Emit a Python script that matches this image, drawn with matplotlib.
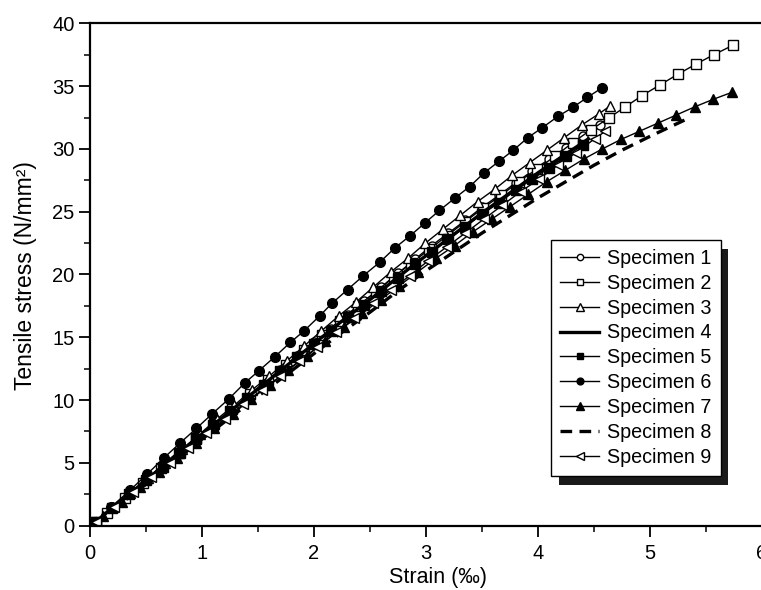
import matplotlib
matplotlib.use("Agg")
import matplotlib.pyplot as plt
from matplotlib.patches import Rectangle
from matplotlib.ticker import MultipleLocator

plt.rcParams['font.family'] = ['Liberation Sans', 'DejaVu Sans']

# Stress-strain readings for each specimen (strain in per mille, stress in N/mm^2)
s1_strain = [0.05, 0.20, 0.35, 0.50, 0.65, 0.80, 0.95, 1.10, 1.25, 1.40, 1.55, 1.70, 1.85, 2.00,
             2.15, 2.30, 2.45, 2.60, 2.75, 2.90, 3.05, 3.20, 3.35, 3.50, 3.65, 3.80, 3.95, 4.10,
             4.25, 4.40, 4.55]
s1_stress = [0.3, 1.4, 2.5, 3.6, 4.7, 5.8, 6.9, 8.0, 9.1, 10.2, 11.3, 12.4, 13.5, 14.6,
             15.7, 16.8, 17.9, 19.0, 20.1, 21.2, 22.3, 23.3, 24.3, 25.35, 26.3, 27.3, 28.25, 29.2,
             30.1, 31.0, 31.9]

s2_strain = [0.05, 0.15, 0.31, 0.47, 0.63, 0.79, 0.95, 1.11, 1.27, 1.43, 1.59, 1.75, 1.91, 2.07,
             2.23, 2.39, 2.55, 2.71, 2.87, 3.03, 3.19, 3.35, 3.51, 3.67, 3.83, 3.99, 4.15, 4.31,
             4.47, 4.63, 4.78, 4.93, 5.09, 5.25, 5.41, 5.57, 5.74]
s2_stress = [0.3, 1.0, 2.2, 3.4, 4.6, 5.8, 6.95, 8.1, 9.3, 10.5, 11.6, 12.8, 14.0, 15.2,
             16.3, 17.5, 18.6, 19.8, 20.9, 22.0, 23.1, 24.2, 25.3, 26.3, 27.4, 28.4, 29.4, 30.5,
             31.5, 32.45, 33.35, 34.25, 35.1, 35.95, 36.75, 37.5, 38.25]

s3_strain = [0.05, 0.205, 0.36, 0.515, 0.67, 0.825, 0.98, 1.135, 1.29, 1.445, 1.60, 1.755, 1.91,
             2.065, 2.22, 2.375, 2.53, 2.685, 2.84, 2.995, 3.15, 3.305, 3.46, 3.615, 3.77, 3.925,
             4.08, 4.235, 4.39, 4.545, 4.64]
s3_stress = [0.3, 1.5, 2.6, 3.8, 5.0, 6.1, 7.3, 8.5, 9.6, 10.8, 11.9, 13.1, 14.3,
             15.5, 16.7, 17.8, 19.0, 20.2, 21.3, 22.5, 23.6, 24.7, 25.8, 26.8, 27.9, 28.9,
             29.9, 30.9, 31.9, 32.8, 33.4]

s4_strain = [0.05, 0.25, 0.50, 0.75, 1.00, 1.25, 1.50, 1.75, 2.00, 2.25, 2.50, 2.75, 3.00, 3.25,
             3.50, 3.75, 4.00, 4.25, 4.45]
s4_stress = [0.3, 1.8, 3.6, 5.5, 7.3, 9.1, 10.9, 12.7, 14.5, 16.3, 18.0, 19.8, 21.5, 23.2,
             24.9, 26.5, 28.1, 29.6, 30.8]

s5_strain = [0.05, 0.20, 0.35, 0.50, 0.65, 0.80, 0.95, 1.10, 1.25, 1.40, 1.55, 1.70, 1.85, 2.00,
             2.15, 2.30, 2.45, 2.60, 2.75, 2.90, 3.05, 3.20, 3.35, 3.50, 3.65, 3.80, 3.95, 4.10,
             4.25, 4.40]
s5_stress = [0.3, 1.4, 2.5, 3.6, 4.7, 5.8, 6.9, 8.0, 9.1, 10.2, 11.2, 12.3, 13.4, 14.5,
             15.5, 16.6, 17.6, 18.7, 19.7, 20.8, 21.8, 22.8, 23.8, 24.8, 25.7, 26.7, 27.6, 28.5,
             29.4, 30.3]

s6_strain = [0.05, 0.19, 0.36, 0.51, 0.66, 0.80, 0.95, 1.09, 1.24, 1.38, 1.51, 1.65, 1.79, 1.91,
             2.05, 2.16, 2.30, 2.44, 2.59, 2.72, 2.86, 2.99, 3.12, 3.26, 3.39, 3.52, 3.65, 3.78,
             3.91, 4.04, 4.18, 4.31, 4.44, 4.57]
s6_stress = [0.3, 1.5, 2.85, 4.1, 5.4, 6.55, 7.75, 8.9, 10.1, 11.35, 12.35, 13.45, 14.6, 15.5,
             16.7, 17.7, 18.8, 19.9, 21.0, 22.1, 23.1, 24.1, 25.1, 26.1, 27.0, 28.1, 29.0, 29.9,
             30.9, 31.7, 32.6, 33.3, 34.1, 34.85]

s7_strain = [0.12, 0.285, 0.45, 0.615, 0.78, 0.945, 1.11, 1.275, 1.44, 1.605, 1.77, 1.935, 2.10,
             2.265, 2.43, 2.595, 2.76, 2.925, 3.09, 3.255, 3.42, 3.585, 3.75, 3.915, 4.08, 4.245,
             4.41, 4.575, 4.74, 4.905, 5.07, 5.235, 5.40, 5.565, 5.73]
s7_stress = [0.8, 1.9, 3.1, 4.3, 5.4, 6.6, 7.8, 8.9, 10.1, 11.2, 12.4, 13.5, 14.7,
             15.8, 16.9, 18.0, 19.1, 20.2, 21.3, 22.3, 23.4, 24.4, 25.4, 26.4, 27.4, 28.3,
             29.2, 30.0, 30.75, 31.4, 32.05, 32.7, 33.35, 33.95, 34.5]

s8_strain = [0.05, 0.25, 0.50, 0.75, 1.00, 1.25, 1.50, 1.75, 2.00, 2.25, 2.50, 2.75, 3.00, 3.25,
             3.50, 3.75, 4.00, 4.25, 4.50, 4.75, 5.00, 5.31]
s8_stress = [0.3, 1.6, 3.3, 5.1, 6.9, 8.6, 10.3, 12.0, 13.7, 15.4, 17.0, 18.7, 20.3, 21.8,
             23.3, 24.7, 26.1, 27.4, 28.7, 29.9, 31.0, 32.3]

s9_strain = [0.05, 0.215, 0.38, 0.545, 0.71, 0.875, 1.04, 1.205, 1.37, 1.535, 1.70, 1.865, 2.03,
             2.195, 2.36, 2.525, 2.69, 2.855, 3.02, 3.185, 3.35, 3.515, 3.68, 3.845, 4.01, 4.175,
             4.34, 4.505, 4.60]
s9_stress = [0.3, 1.5, 2.7, 3.9, 5.0, 6.2, 7.4, 8.5, 9.7, 10.8, 11.9, 13.1, 14.2,
             15.4, 16.5, 17.7, 18.8, 19.9, 21.1, 22.2, 23.3, 24.4, 25.5, 26.6, 27.6, 28.7,
             29.7, 30.8, 31.4]

labels = ["Specimen 1", "Specimen 2", "Specimen 3", "Specimen 4", "Specimen 5",
          "Specimen 6", "Specimen 7", "Specimen 8", "Specimen 9"]

x_ticks = [0, 1, 2, 3, 4, 5, 6]
y_ticks = [0, 5, 10, 15, 20, 25, 30, 35, 40]

fig = plt.figure(figsize=(7.61, 5.90), dpi=100)
ax = fig.add_axes([0.1183, 0.109, 0.883, 0.8515])

thin = dict(color="black", lw=1.0, mew=1.0, ms=6.5)
tri = {**thin, "ms": 7.5}
ax.plot(s1_strain, s1_stress, marker="o", mfc="white", mec="black", label=labels[0], **thin)
ax.plot(s2_strain, s2_stress, marker="s", mfc="white", mec="black", label=labels[1], **thin)
ax.plot(s3_strain, s3_stress, marker="^", mfc="white", mec="black", label=labels[2], **tri)
ax.plot(s4_strain, s4_stress, color="black", lw=2.4, label=labels[3])
ax.plot(s5_strain, s5_stress, marker="s", mfc="black", mec="black", label=labels[4], **thin)
ax.plot(s6_strain, s6_stress, marker="o", mfc="black", mec="black", label=labels[5],
        **{**thin, "ms": 7})
ax.plot(s7_strain, s7_stress, marker="^", mfc="black", mec="black", label=labels[6], **tri)
ax.plot(s8_strain, s8_stress, color="black", lw=2.4, dashes=(3.5, 2.2), label=labels[7])
ax.plot(s9_strain, s9_stress, marker="<", mfc="white", mec="black", label=labels[8], **tri)

ax.set_xlim(0, 6)
ax.set_ylim(0, 40)
ax.set_xticks(x_ticks)
ax.set_yticks(y_ticks)
ax.xaxis.set_minor_locator(MultipleLocator(0.5))
ax.yaxis.set_minor_locator(MultipleLocator(2.5))
ax.tick_params(which="major", direction="out", length=8, width=1.3, labelsize=14.5)
ax.tick_params(axis="x", which="major", pad=5)
ax.tick_params(axis="y", which="major", pad=3)
ax.tick_params(which="minor", direction="out", length=4, width=1.1)
for side in ("left", "bottom", "top"):
    ax.spines[side].set_linewidth(1.6)
ax.spines["right"].set_visible(False)

ax.set_xlabel("Strain (\u2030)", fontsize=15.5)
ax.set_ylabel("Tensile stress (N/mm\u00b2)", fontsize=16.5)
ax.xaxis.set_label_coords(0.518, -0.083)
ax.yaxis.set_label_coords(-0.079, 0.497)

leg = ax.legend(loc="upper left", bbox_to_anchor=(0.686, 0.569), borderaxespad=0,
                fontsize=14.2, frameon=True, fancybox=False, framealpha=1,
                edgecolor="black", labelspacing=0.3, handlelength=2.0,
                handletextpad=0.4, borderpad=0.45, markerscale=0.7)
leg.get_frame().set_linewidth(1.0)
leg.set_zorder(6)

# Drop shadow behind the legend box
fig.canvas.draw()
bb = leg.get_window_extent()
inv = ax.transAxes.inverted()
(x0, y0), (x1, y1) = inv.transform([(bb.x0 + 8, bb.y0 - 9), (bb.x1 + 7, bb.y1 - 9)])
ax.add_patch(Rectangle((x0, y0), x1 - x0, y1 - y0, transform=ax.transAxes,
                       facecolor="#1a1a1a", edgecolor="none", zorder=5.5, clip_on=False))

fig.savefig("out.png", dpi=100)
